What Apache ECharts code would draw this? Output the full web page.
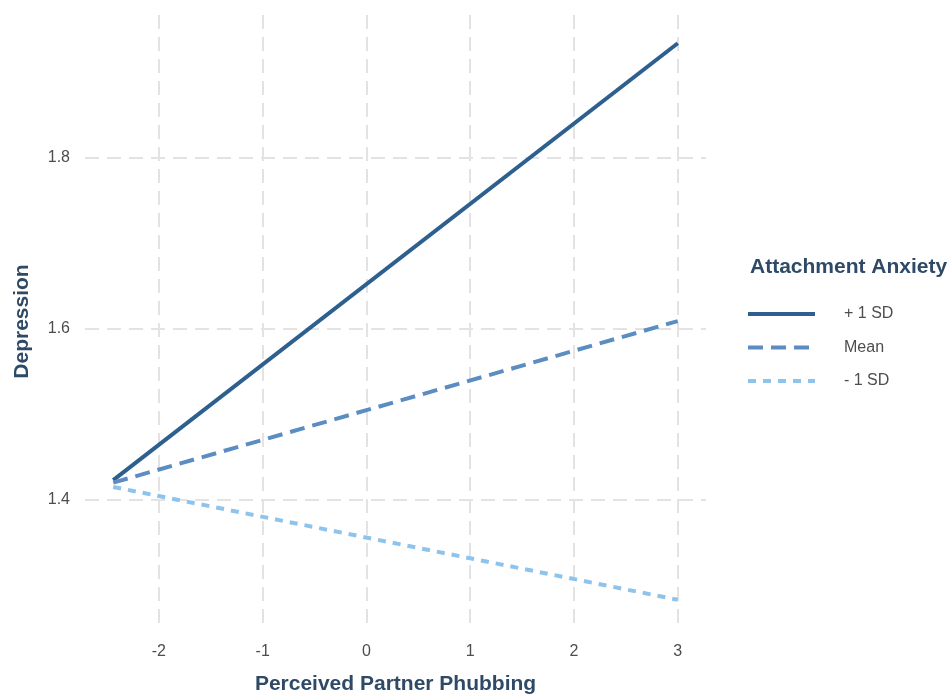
<!DOCTYPE html>
<html><head><meta charset="utf-8">
<script src="https://cdn.jsdelivr.net/npm/echarts@6/dist/echarts.min.js"></script>
<style>html,body{margin:0;padding:0;background:#fff}#c{width:952px;height:694px}</style>
</head><body><div id="c"></div>
<script>
const xValues = [-2.44, 3];
const plusSD = [1.423, 1.934];
const meanSD = [1.420, 1.609];
const minusSD = [1.415, 1.283];
const xTicks = [-2, -1, 0, 1, 2, 3];
const yTicks = [1.4, 1.6, 1.8];
const seriesNames = ['+ 1 SD', 'Mean', '- 1 SD'];

const font = '"Liberation Sans", Arial, sans-serif';
const pair = arr => xValues.map((x, i) => [x, arr[i]]);
const chart = echarts.init(document.getElementById('c'));
chart.setOption({
  animation: false,
  backgroundColor: '#fff',
  title: {
    text: 'Attachment Anxiety', left: 745, top: 252,
    textStyle: { fontFamily: font, fontSize: 21, fontWeight: 'bold', color: '#2f4a66' }
  },
  legend: {
    left: 741, top: 301, orient: 'vertical', itemWidth: 67, itemHeight: 18, itemGap: 17.5,
    data: seriesNames,
    itemStyle: { opacity: 0 },
    lineStyle: { width: 4 },
    textStyle: { fontFamily: font, fontSize: 16, color: '#4d4d4d', padding: [0, 0, 0, 24] }
  },
  grid: { left: 85, right: 246, top: 15, bottom: 66, outerBoundsMode: 'none', containLabel: false },
  xAxis: {
    type: 'value', min: -2.712, max: 3.272,
    name: 'Perceived Partner Phubbing', nameLocation: 'middle', nameGap: 46,
    nameTextStyle: { fontFamily: font, fontSize: 21, fontWeight: 'bold', color: '#2f4a66' },
    axisLine: { show: false },
    axisTick: { show: false, customValues: xTicks },
    axisLabel: { customValues: xTicks, fontFamily: font, fontSize: 16, color: '#4d4d4d', margin: 16 },
    splitLine: { show: true, lineStyle: { color: '#e3e3e3', width: 2, type: [14, 8] } }
  },
  yAxis: {
    type: 'value', min: 1.250, max: 1.967,
    name: 'Depression', nameLocation: 'middle', nameGap: 52, nameRotate: 90,
    nameTextStyle: { fontFamily: font, fontSize: 21, fontWeight: 'bold', color: '#2f4a66' },
    axisLine: { show: false },
    axisTick: { show: false, customValues: yTicks },
    axisLabel: { customValues: yTicks, fontFamily: font, fontSize: 16, color: '#4d4d4d', margin: 15,
      formatter: v => v.toFixed(1) },
    splitLine: { show: true, lineStyle: { color: '#e3e3e3', width: 2, type: [14, 8] } }
  },
  series: [
    { name: seriesNames[0], type: 'line', data: pair(plusSD), symbol: 'none',
      lineStyle: { color: '#2d5f8f', width: 4, type: 'solid' }, itemStyle: { color: '#2d5f8f' } },
    { name: seriesNames[1], type: 'line', data: pair(meanSD), symbol: 'none',
      lineStyle: { color: '#5b8dc3', width: 4, type: [15, 8] }, itemStyle: { color: '#5b8dc3' } },
    { name: seriesNames[2], type: 'line', data: pair(minusSD), symbol: 'none',
      lineStyle: { color: '#8ec3ec', width: 4, type: [8, 7] }, itemStyle: { color: '#8ec3ec' } }
  ]
});
</script></body></html>
